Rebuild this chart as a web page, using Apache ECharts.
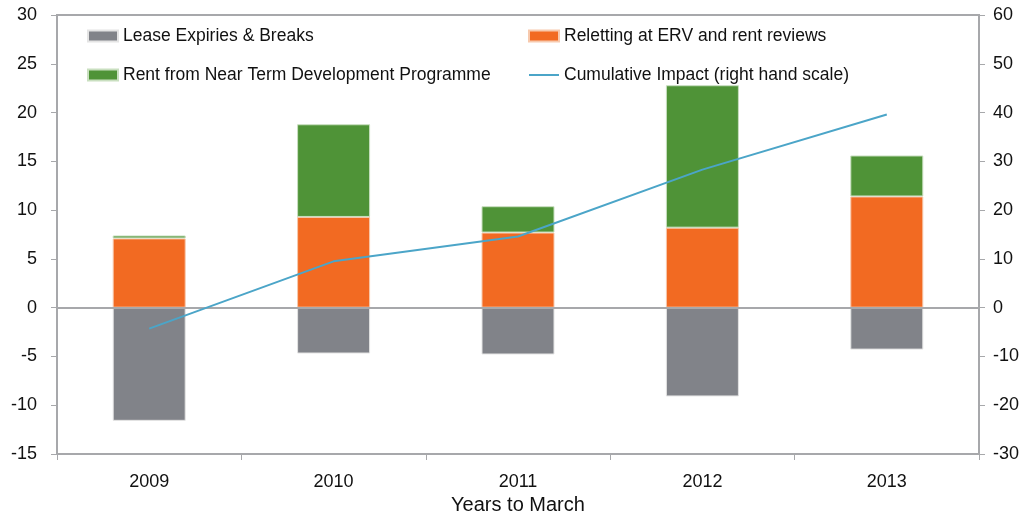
<!DOCTYPE html>
<html>
<head>
<meta charset="utf-8">
<script src="https://cdn.jsdelivr.net/npm/echarts@6/dist/echarts.min.js"></script>
<style>
  html, body { margin: 0; padding: 0; background: #fff; }
  #main { width: 1031px; height: 513px; }
</style>
</head>
<body>
<div id="main"></div>
<script>
var years = ['2009', '2010', '2011', '2012', '2013'];
var leaseExpiries = [-11.6, -4.7, -4.8, -9.1, -4.3];
var reletting = [7.1, 9.3, 7.7, 8.2, 11.4];
var nearTermRent = [0.3, 9.5, 2.7, 14.6, 4.2];
var cumulative = [-4.3, 9.5, 14.6, 28.3, 39.6];

var axisGrey = '#a7a8ab';
var font = 'Liberation Sans';
var lineIcon = 'path://M0,0 L30,0 L30,2 L0,2 Z';

var chartDom = document.getElementById('main');
var myChart = echarts.init(chartDom);

var legendText = { fontSize: 17.5, color: '#111', fontFamily: font, lineHeight: 17 };

var option = {
  animation: false,
  textStyle: { fontFamily: font },
  grid: {
    left: 57,
    right: 52,
    top: 15,
    bottom: 59,
    outerBoundsMode: 'none',
    show: true,
    borderColor: axisGrey,
    borderWidth: 2
  },
  legend: [
    {
      left: 87,
      top: 27,
      padding: 0,
      orient: 'vertical',
      itemWidth: 30,
      itemHeight: 11,
      itemGap: 21,
      icon: 'rect',
      textStyle: legendText,
      data: ['Lease Expiries & Breaks', 'Rent from Near Term Development Programme']
    },
    {
      left: 528,
      top: 27,
      padding: 0,
      orient: 'vertical',
      itemWidth: 30,
      itemHeight: 11,
      itemGap: 21,
      textStyle: legendText,
      data: [
        { name: 'Reletting at ERV and rent reviews', icon: 'rect' },
        { name: 'Cumulative Impact (right hand scale)', icon: lineIcon }
      ]
    }
  ],
  xAxis: {
    type: 'category',
    data: years,
    name: 'Years to March',
    nameLocation: 'middle',
    nameGap: 37,
    nameTextStyle: { fontSize: 20, color: '#111', fontFamily: font },
    axisLine: { onZero: false, lineStyle: { color: axisGrey, width: 2 } },
    axisTick: { show: true, length: 6, lineStyle: { color: axisGrey } },
    axisLabel: { fontSize: 18, color: '#111', margin: 19 }
  },
  yAxis: [
    {
      type: 'value',
      min: -15,
      max: 30,
      interval: 5,
      splitLine: { show: false },
      axisLine: { show: true, lineStyle: { color: axisGrey, width: 2 } },
      axisTick: { show: true, length: 6, lineStyle: { color: axisGrey } },
      axisLabel: { fontSize: 18, color: '#111', margin: 20 }
    },
    {
      type: 'value',
      min: -30,
      max: 60,
      interval: 10,
      splitLine: { show: false },
      axisLine: { show: true, lineStyle: { color: axisGrey, width: 2 } },
      axisTick: { show: true, length: 6, lineStyle: { color: axisGrey } },
      axisLabel: { fontSize: 18, color: '#111', margin: 14 }
    }
  ],
  series: [
    {
      name: 'Lease Expiries & Breaks',
      type: 'bar',
      stack: 'neg',
      barWidth: 73,
      barGap: '-100%',
      itemStyle: { color: '#818389', borderColor: '#e4e4e4', borderWidth: 1 },
      data: leaseExpiries,
      markLine: {
        silent: true,
        symbol: 'none',
        label: { show: false },
        lineStyle: { color: axisGrey, width: 2, type: 'solid' },
        data: [{ yAxis: 0 }]
      }
    },
    {
      name: 'Reletting at ERV and rent reviews',
      type: 'bar',
      stack: 'pos',
      barWidth: 73,
      itemStyle: { color: '#f26a22', borderColor: '#f7c9ad', borderWidth: 1 },
      data: reletting
    },
    {
      name: 'Rent from Near Term Development Programme',
      type: 'bar',
      stack: 'pos',
      barWidth: 73,
      itemStyle: { color: '#4f9337', borderColor: '#c9dfc0', borderWidth: 1 },
      data: nearTermRent
    },
    {
      name: 'Cumulative Impact (right hand scale)',
      type: 'line',
      yAxisIndex: 1,
      symbol: 'none',
      lineStyle: { color: '#4ba5c8', width: 2 },
      itemStyle: { color: '#4ba5c8' },
      data: cumulative,
      z: 5
    }
  ]
};

myChart.setOption(option);
</script>
</body>
</html>
